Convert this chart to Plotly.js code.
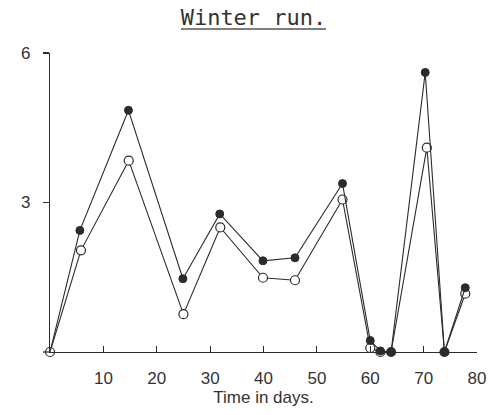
<!DOCTYPE html>
<html>
<head>
<meta charset="utf-8">
<script src="https://cdn.plot.ly/plotly-3.0.1.min.js"></script>
<style>
  html, body { margin: 0; padding: 0; background: #fff; }
  #chart { width: 494px; height: 415px; }
</style>
</head>
<body>
<div id="chart"></div>
<script>
// Winter run: two measured series against time (days)
const daysFilled = [0, 5.6, 14.7, 24.9, 31.8, 39.9, 45.9, 54.8, 60.0, 61.9, 63.9, 70.3, 73.9, 77.8];
const valuesFilled = [0, 2.44, 4.85, 1.47, 2.77, 1.83, 1.89, 3.38, 0.23, 0.02, 0, 5.61, 0, 1.29];

const daysOpen = [0, 5.8, 14.75, 25.0, 31.9, 39.9, 45.9, 54.8, 60.0, 61.9, 63.9, 70.6, 73.9, 77.8];
const valuesOpen = [0, 2.04, 3.84, 0.76, 2.5, 1.49, 1.44, 3.06, 0.08, 0, 0, 4.1, 0, 1.17];

const xTicks = [10, 20, 30, 40, 50, 60, 70, 80];
const yTicks = [3, 6];

const ink = '#2b2b2b';

const openTrace = {
  x: daysOpen, y: valuesOpen,
  mode: 'lines+markers', type: 'scatter',
  cliponaxis: false,
  line: { color: ink, width: 1.1 },
  marker: { symbol: 'circle', size: 9, color: '#fff', line: { color: ink, width: 1.2 } },
  hoverinfo: 'x+y'
};

// the shared start point at the origin is shown as an open circle
const filledColors = daysFilled.map(d => d === 0 ? 'rgba(0,0,0,0)' : ink);
const filledTrace = {
  x: daysFilled, y: valuesFilled,
  mode: 'lines+markers', type: 'scatter',
  cliponaxis: false,
  line: { color: ink, width: 1.1 },
  marker: { symbol: 'circle', size: 8, color: filledColors, line: { color: filledColors, width: 1 } },
  hoverinfo: 'x+y'
};

const tickFont = { family: 'Liberation Sans, Arial, sans-serif', size: 17, color: '#333' };

const layout = {
  width: 494, height: 415,
  margin: { l: 50, r: 17, t: 53, b: 63 },
  paper_bgcolor: '#fff', plot_bgcolor: '#fff',
  showlegend: false,
  title: {
    text: 'Winter run.',
    font: { family: 'DejaVu Sans Mono, monospace', size: 22, color: '#333' },
    x: 253.5 / 494, xanchor: 'center', xref: 'container',
    y: 1 - 17 / 415, yanchor: 'middle', yref: 'container'
  },
  xaxis: {
    range: [0, 80], showgrid: false, zeroline: false,
    showline: true, linecolor: ink, linewidth: 1.2,
    tickmode: 'array', tickvals: xTicks, ticktext: xTicks.map(String),
    ticks: 'inside', ticklen: 6, tickwidth: 1.2, tickcolor: ink,
    ticklabelstandoff: 10,
    tickfont: tickFont,
    title: { text: 'Time in days.', font: { family: 'Liberation Sans, Arial, sans-serif', size: 17, color: '#333' }, standoff: 2 }
  },
  yaxis: {
    range: [0, 6], showgrid: false, zeroline: false,
    showline: true, linecolor: ink, linewidth: 1.2,
    tickmode: 'array', tickvals: yTicks, ticktext: yTicks.map(String),
    ticks: 'outside', ticklen: 6, tickwidth: 1.2, tickcolor: ink,
    ticklabelstandoff: 9,
    tickfont: tickFont
  },
  shapes: [
    // title underline
    { type: 'line', xref: 'paper', yref: 'paper',
      x0: (181 - 50) / 427, x1: (326 - 50) / 427,
      y0: 1 + (53 - 29) / 299, y1: 1 + (53 - 29) / 299,
      line: { color: '#555', width: 1.3 } },
    // short stub of the time axis left of the origin
    { type: 'line', xref: 'paper', yref: 'paper',
      x0: -7 / 427, x1: 0, y0: 0, y1: 0,
      line: { color: ink, width: 1.2 } }
  ]
};

Plotly.newPlot('chart', [openTrace, filledTrace], layout, { staticPlot: true, displayModeBar: false });
</script>
</body>
</html>
